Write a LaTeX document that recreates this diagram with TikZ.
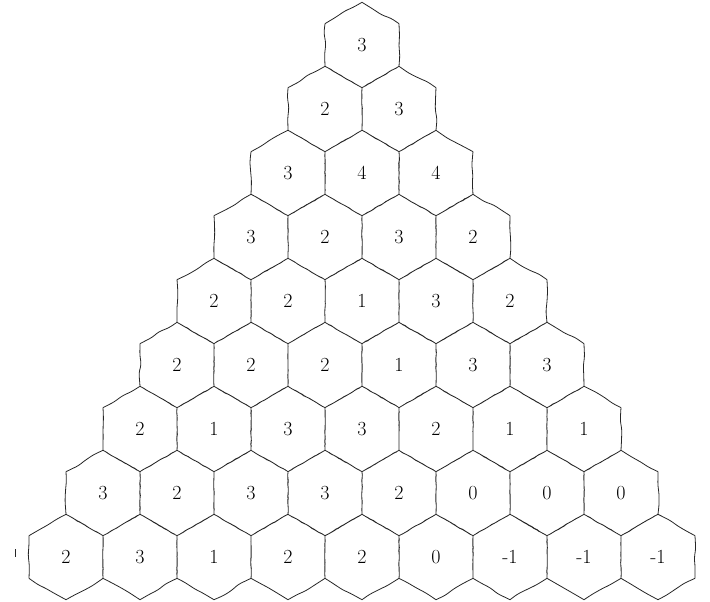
\documentclass[tikz,border=0pt]{standalone}
\usetikzlibrary{calc,decorations.pathmorphing}

\begin{document}
\begin{tikzpicture}[
  x=1pt, y=1pt,
  num/.style={inner sep=0pt,font=\fontsize{20}{24}\selectfont},
  wall/.style={line width=0.8pt,black!85},
  edge/.style={wall,rounded corners=3pt,decorate,decoration={random steps,segment length=#1,amplitude=0.12*#1}},
]
\useasboundingbox (0,0) rectangle (710,-602);
\pgfmathsetseed{5}
\def\side{42.7}
% rows of the triangle, top to bottom
\foreach \vals [count=\r] in {{3},{2,3},{3,4,4},{3,2,3,2},{2,2,1,3,2},{2,2,2,1,3,3},
    {2,1,3,3,2,1,1},{3,2,3,3,2,0,0,0},{2,3,1,2,2,0,-1,-1,-1}}{
  \foreach \v [count=\k from 0] in \vals {
    \pgfmathsetmacro\cx{362+(\k-(\r-1)/2)*74}
    \pgfmathsetmacro\cy{-45-(\r-1)*64}
    \node[num] (c\r-\k) at (\cx,\cy) {\v};
    \pgfmathtruncatemacro\lastk{\r-1}
    \ifnum\k=0 \def\ampa{10pt}\else\def\ampa{3pt}\fi
    \ifnum\k=\lastk \def\ampb{10pt}\else\def\ampb{3pt}\fi
    \draw[edge=\ampa] ($(c\r-\k)+(90:\side)$) -- ($(c\r-\k)+(150:\side)$);
    \draw[edge=\ampa] ($(c\r-\k)+(150:\side)$) -- ($(c\r-\k)+(210:\side)$);
    \draw[edge=\ampb] ($(c\r-\k)+(30:\side)$) -- ($(c\r-\k)+(90:\side)$);
    \ifnum\k=\lastk
      \draw[edge=10pt] ($(c\r-\k)+(-30:\side)$) -- ($(c\r-\k)+(30:\side)$);
    \fi
    \ifnum\r=9
      \draw[edge=10pt] ($(c\r-\k)+(210:\side)$) -- ($(c\r-\k)+(270:\side)$);
      \draw[edge=10pt] ($(c\r-\k)+(270:\side)$) -- ($(c\r-\k)+(330:\side)$);
    \fi
  }
}
% stray tick at the left
\draw[wall] (15,-549) -- (15,-557);
\end{tikzpicture}
\end{document}
